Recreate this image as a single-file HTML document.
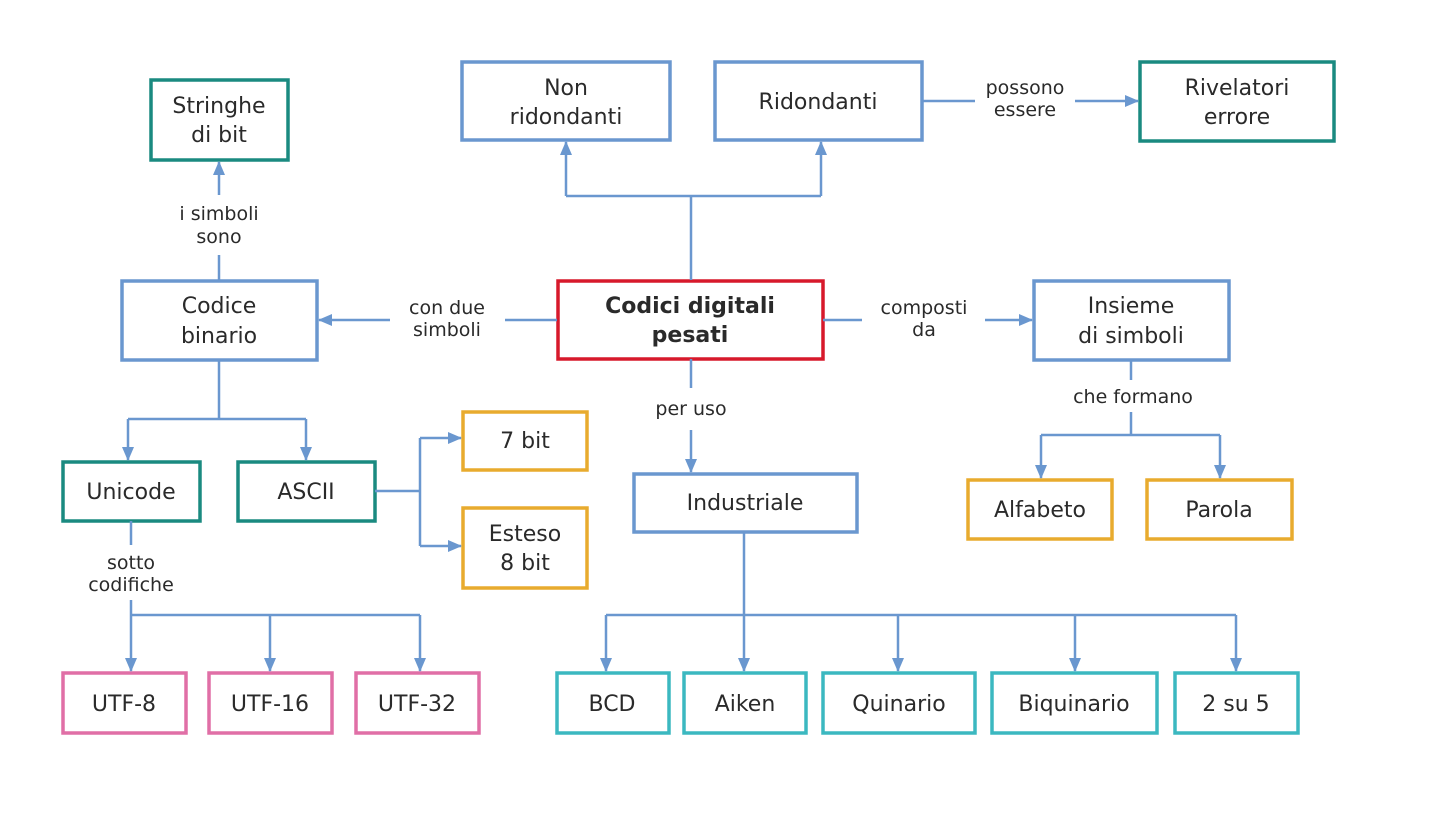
<!DOCTYPE html>
<html><head><meta charset="utf-8"><style>
html,body{margin:0;padding:0;background:#fff;}
svg text{font-family:"DejaVu Sans","Liberation Sans",sans-serif;font-size:22px;fill:#2a2a2a;text-anchor:middle;}
.l{font-size:19px;}
</style></head><body>
<svg width="1440" height="810" viewBox="0 0 1440 810" xmlns="http://www.w3.org/2000/svg">
<defs><marker id="a" markerWidth="14" markerHeight="12" refX="13" refY="6" orient="auto" markerUnits="userSpaceOnUse"><path d="M0,0 L14,6 L0,12 z" fill="#6a97cf"/></marker></defs>
<g fill="#fff" stroke-width="3.5">
<rect x="151" y="80" width="137" height="80" stroke="#1a8a80"/>
<rect x="462" y="62" width="208" height="78" stroke="#6a97cf"/>
<rect x="715" y="62" width="207" height="78" stroke="#6a97cf"/>
<rect x="1140" y="62" width="194" height="79" stroke="#1a8a80"/>
<rect x="122" y="281" width="195" height="79" stroke="#6a97cf"/>
<rect x="558" y="281" width="265" height="78" stroke="#d7192b"/>
<rect x="1034" y="281" width="195" height="79" stroke="#6a97cf"/>
<rect x="463" y="412" width="124" height="58" stroke="#e8ab2e"/>
<rect x="63" y="462" width="137" height="59" stroke="#1a8a80"/>
<rect x="238" y="462" width="137" height="59" stroke="#1a8a80"/>
<rect x="463" y="508" width="124" height="80" stroke="#e8ab2e"/>
<rect x="634" y="474" width="223" height="58" stroke="#6a97cf"/>
<rect x="968" y="480" width="144" height="59" stroke="#e8ab2e"/>
<rect x="1147" y="480" width="145" height="59" stroke="#e8ab2e"/>
<rect x="63" y="673" width="123" height="60" stroke="#e06fa6"/>
<rect x="209" y="673" width="123" height="60" stroke="#e06fa6"/>
<rect x="356" y="673" width="123" height="60" stroke="#e06fa6"/>
<rect x="557" y="673" width="112" height="60" stroke="#3bb8c0"/>
<rect x="684" y="673" width="122" height="60" stroke="#3bb8c0"/>
<rect x="823" y="673" width="152" height="60" stroke="#3bb8c0"/>
<rect x="992" y="673" width="165" height="60" stroke="#3bb8c0"/>
<rect x="1175" y="673" width="123" height="60" stroke="#3bb8c0"/>
</g>
<g stroke="#6a97cf" stroke-width="2.5" fill="none">
<path d="M691 280 V196 M566 196 H821"/>
<path d="M566 196 V142" marker-end="url(#a)"/>
<path d="M821 196 V142" marker-end="url(#a)"/>
<path d="M922 101 H975"/><path d="M1075 101 H1138" marker-end="url(#a)"/>
<path d="M219 280 V255"/><path d="M219 195 V162" marker-end="url(#a)"/>
<path d="M557 320 H505"/><path d="M390 320 H319" marker-end="url(#a)"/>
<path d="M823 320 H862"/><path d="M985 320 H1032" marker-end="url(#a)"/>
<path d="M691 359 V388"/><path d="M691 430 V472" marker-end="url(#a)"/>
<path d="M219 360 V419 M128 419 H306"/>
<path d="M128 419 V460" marker-end="url(#a)"/><path d="M306 419 V460" marker-end="url(#a)"/>
<path d="M375 491 H420 M420 438 V546"/>
<path d="M420 438 H461" marker-end="url(#a)"/><path d="M420 546 H461" marker-end="url(#a)"/>
<path d="M1131 360 V380 M1131 412 V435 M1041 435 H1220"/>
<path d="M1041 435 V478" marker-end="url(#a)"/><path d="M1220 435 V478" marker-end="url(#a)"/>
<path d="M131 521 V545 M131 600 V615 M131 615 H420"/>
<path d="M131 615 V671" marker-end="url(#a)"/><path d="M270 615 V671" marker-end="url(#a)"/><path d="M420 615 V671" marker-end="url(#a)"/>
<path d="M744 532 V615 M606 615 H1236"/>
<path d="M606 615 V671" marker-end="url(#a)"/><path d="M744 615 V671" marker-end="url(#a)"/><path d="M898 615 V671" marker-end="url(#a)"/><path d="M1075 615 V671" marker-end="url(#a)"/><path d="M1236 615 V671" marker-end="url(#a)"/>
</g>
<text x="219" y="113">Stringhe</text><text x="219" y="142">di bit</text>
<text x="566" y="95">Non</text><text x="566" y="124">ridondanti</text>
<text x="818" y="109">Ridondanti</text>
<text x="1237" y="95">Rivelatori</text><text x="1237" y="124">errore</text>
<text x="219" y="313">Codice</text><text x="219" y="343">binario</text>
<text x="690" y="313" style="font-weight:bold">Codici digitali</text><text x="690" y="342" style="font-weight:bold">pesati</text>
<text x="1131" y="313">Insieme</text><text x="1131" y="343">di simboli</text>
<text x="525" y="448">7 bit</text>
<text x="131" y="499">Unicode</text><text x="306" y="499">ASCII</text>
<text x="525" y="541">Esteso</text><text x="525" y="570">8 bit</text>
<text x="745" y="510">Industriale</text>
<text x="1040" y="517">Alfabeto</text><text x="1219" y="517">Parola</text>
<text x="124" y="711">UTF-8</text><text x="270" y="711">UTF-16</text><text x="417" y="711">UTF-32</text>
<text x="612" y="711">BCD</text><text x="745" y="711">Aiken</text><text x="899" y="711">Quinario</text><text x="1074" y="711">Biquinario</text><text x="1236" y="711">2 su 5</text>
<text class="l" x="1025" y="94">possono</text><text class="l" x="1025" y="116">essere</text>
<text class="l" x="219" y="220">i simboli</text><text class="l" x="219" y="243">sono</text>
<text class="l" x="447" y="314">con due</text><text class="l" x="447" y="336">simboli</text>
<text class="l" x="924" y="314">composti</text><text class="l" x="924" y="336">da</text>
<text class="l" x="691" y="415">per uso</text>
<text class="l" x="1133" y="403">che formano</text>
<text class="l" x="131" y="569">sotto</text><text class="l" x="131" y="591">codifiche</text>
</svg>
</body></html>
